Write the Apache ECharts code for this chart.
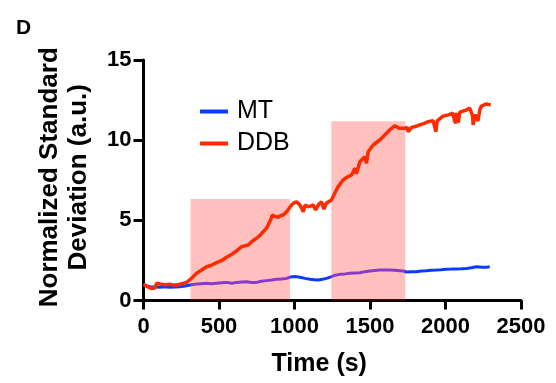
<!DOCTYPE html>
<html>
<head>
<meta charset="utf-8">
<script src="https://cdn.jsdelivr.net/npm/echarts@6/dist/echarts.min.js"></script>
<style>
html,body{margin:0;padding:0;background:#fff;}
#chart{width:556px;height:383px;}
</style>
</head>
<body>
<div id="chart"></div>
<script>
const ddbTime = [0,20,54,75,87,110,140,175,200,220,250,286,308,330,352,385,418,450,484,520,550,580,617,650,694,720,749,770,793,815,826,845,852,870,892,910,925,948,981,1000,1014,1036,1047,1058,1070,1091,1110,1124,1135,1140,1157,1179,1190,1195,1210,1223,1245,1267,1289,1322,1350,1378,1400,1410,1433,1466,1477,1488,1521,1565,1598,1631,1664,1697,1731,1745,1753,1775,1800,1830,1860,1885,1918,1930,1936,1945,1984,2020,2050,2060,2068,2075,2085,2095,2110,2139,2160,2172,2180,2183,2195,2205,2215,2227,2238,2271,2300];
const ddbValue = [1.01,0.9,0.74,0.78,1.07,1.03,0.98,1.01,0.96,0.97,1.03,1.13,1.3,1.5,1.7,1.9,2.1,2.2,2.36,2.5,2.7,2.85,3.1,3.36,3.46,3.7,3.88,4.05,4.29,4.5,4.71,5.1,5.33,5.25,5.19,5.3,5.33,5.54,5.96,6.1,6.16,5.96,5.75,5.54,5.95,5.85,5.9,5.96,5.85,5.65,5.95,6.16,6.16,5.7,6.06,5.96,6.27,6.69,7.1,7.52,7.7,7.83,8.25,7.9,8.66,8.97,8.56,9.28,9.7,10.01,10.32,10.64,10.89,10.74,10.74,10.8,10.53,10.8,10.85,10.95,11.05,11.15,11.22,11.25,10.53,11.2,11.5,11.58,11.68,11.2,11.05,11.7,11.1,11.75,11.8,11.88,12.0,12.09,11.5,10.95,11.6,11.57,11.2,11.88,12.13,12.26,12.2];
const mtTime = [0,20,43,75,109,140,175,210,241,275,308,352,385,418,450,484,520,550,585,617,650,683,715,749,780,815,850,881,915,948,975,1003,1036,1070,1102,1130,1157,1185,1212,1245,1270,1300,1335,1367,1400,1433,1466,1499,1530,1565,1600,1631,1665,1697,1720,1742,1775,1808,1840,1874,1905,1940,1970,2006,2040,2073,2105,2139,2170,2205,2240,2271,2293];
const mtValue = [1.0,0.93,0.86,0.84,0.82,0.85,0.82,0.84,0.86,0.9,0.97,1.03,1.05,1.07,1.04,1.07,1.1,1.13,1.08,1.13,1.15,1.17,1.12,1.13,1.2,1.24,1.28,1.32,1.34,1.38,1.47,1.49,1.45,1.38,1.32,1.3,1.28,1.33,1.38,1.49,1.58,1.63,1.66,1.7,1.72,1.73,1.8,1.84,1.87,1.9,1.91,1.9,1.88,1.86,1.84,1.78,1.79,1.8,1.84,1.86,1.88,1.9,1.92,1.95,1.96,1.97,1.98,2.0,2.04,2.1,2.08,2.07,2.1];
const shadedRanges = [[312, 970, 6.33], [1244, 1734, 11.18]];
const xTicks = [0, 500, 1000, 1500, 2000, 2500];
const yTicks = [0, 5, 10, 15];
const seriesNames = ['MT', 'DDB'];

const FONT = "'Liberation Sans', Arial, Helvetica, sans-serif";
const mtData = mtTime.map((t, i) => [t, mtValue[i]]);
const ddbData = ddbTime.map((t, i) => [t, ddbValue[i]]);

const chart = echarts.init(document.getElementById('chart'), null, {renderer: 'canvas'});
chart.setOption({
  animation: false,
  backgroundColor: '#fff',
  title: {
    text: 'D', left: 11, top: 13,
    textStyle: {fontFamily: FONT, fontWeight: 'bold', fontSize: 21, color: '#000'}
  },
  grid: {left: 143.5, right: 35, top: 60, bottom: 82.5, containLabel: false},
  legend: {
    orient: 'vertical', left: 195, top: 94, itemGap: 7,
    itemWidth: 28, itemHeight: 4, icon: 'rect',
    textStyle: {fontFamily: FONT, fontSize: 25, color: '#000', padding: [0, 0, 0, 4]},
    data: [
      {name: seriesNames[0], itemStyle: {color: '#0a3cff'}},
      {name: seriesNames[1], itemStyle: {color: '#ff2a00'}}
    ]
  },
  visualMap: {
    show: false, type: 'piecewise', seriesIndex: 0, dimension: 0,
    pieces: [
      {gte: shadedRanges[0][0], lte: shadedRanges[0][1], color: '#8a3acb'},
      {gte: shadedRanges[1][0], lte: shadedRanges[1][1], color: '#8a3acb'}
    ],
    outOfRange: {color: '#0a3cff'}
  },
  xAxis: {
    type: 'value', min: 0, max: 2500, interval: 500,
    name: 'Time (s)', nameLocation: 'middle', nameGap: 51,
    nameTextStyle: {fontFamily: FONT, fontWeight: 'bold', fontSize: 25, color: '#000', padding: [0, 26, 0, 0]},
    axisLine: {lineStyle: {color: '#000', width: 3}},
    axisTick: {show: true, length: 9, lineStyle: {color: '#000', width: 3}},
    axisLabel: {fontFamily: FONT, fontWeight: 'bold', fontSize: 22, color: '#000', margin: 15,
      formatter: v => xTicks.includes(v) ? String(v) : ''},
    splitLine: {show: false}
  },
  yAxis: {
    type: 'value', min: 0, max: 15, interval: 5,
    name: 'Normalized Standard\nDeviation (a.u.)', nameLocation: 'middle', nameGap: 50, nameRotate: 90,
    nameTextStyle: {fontFamily: FONT, fontWeight: 'bold', fontSize: 26, lineHeight: 29, color: '#000', padding: [0, 0, 0, 6]},
    axisLine: {show: true, lineStyle: {color: '#000', width: 3}},
    axisTick: {show: true, length: 10, lineStyle: {color: '#000', width: 3}},
    axisLabel: {fontFamily: FONT, fontWeight: 'bold', fontSize: 22, color: '#000', margin: 12,
      formatter: v => yTicks.includes(v) ? String(v) : ''},
    splitLine: {show: false}
  },
  series: [
    {
      name: seriesNames[0], type: 'line', data: mtData, symbol: 'none', z: 2,
      color: '#0a3cff',
      lineStyle: {width: 3},
      markArea: {
        silent: true,
        itemStyle: {color: 'rgba(255,30,20,0.28)', borderWidth: 0},
        data: shadedRanges.map(r => [{xAxis: r[0], yAxis: 0}, {xAxis: r[1], yAxis: r[2]}])
      }
    },
    {
      name: seriesNames[1], type: 'line', data: ddbData, symbol: 'none', z: 3,
      color: '#ff2a00',
      lineStyle: {width: 3.5, color: '#ff2a00'}
    }
  ]
});
</script>
</body>
</html>
